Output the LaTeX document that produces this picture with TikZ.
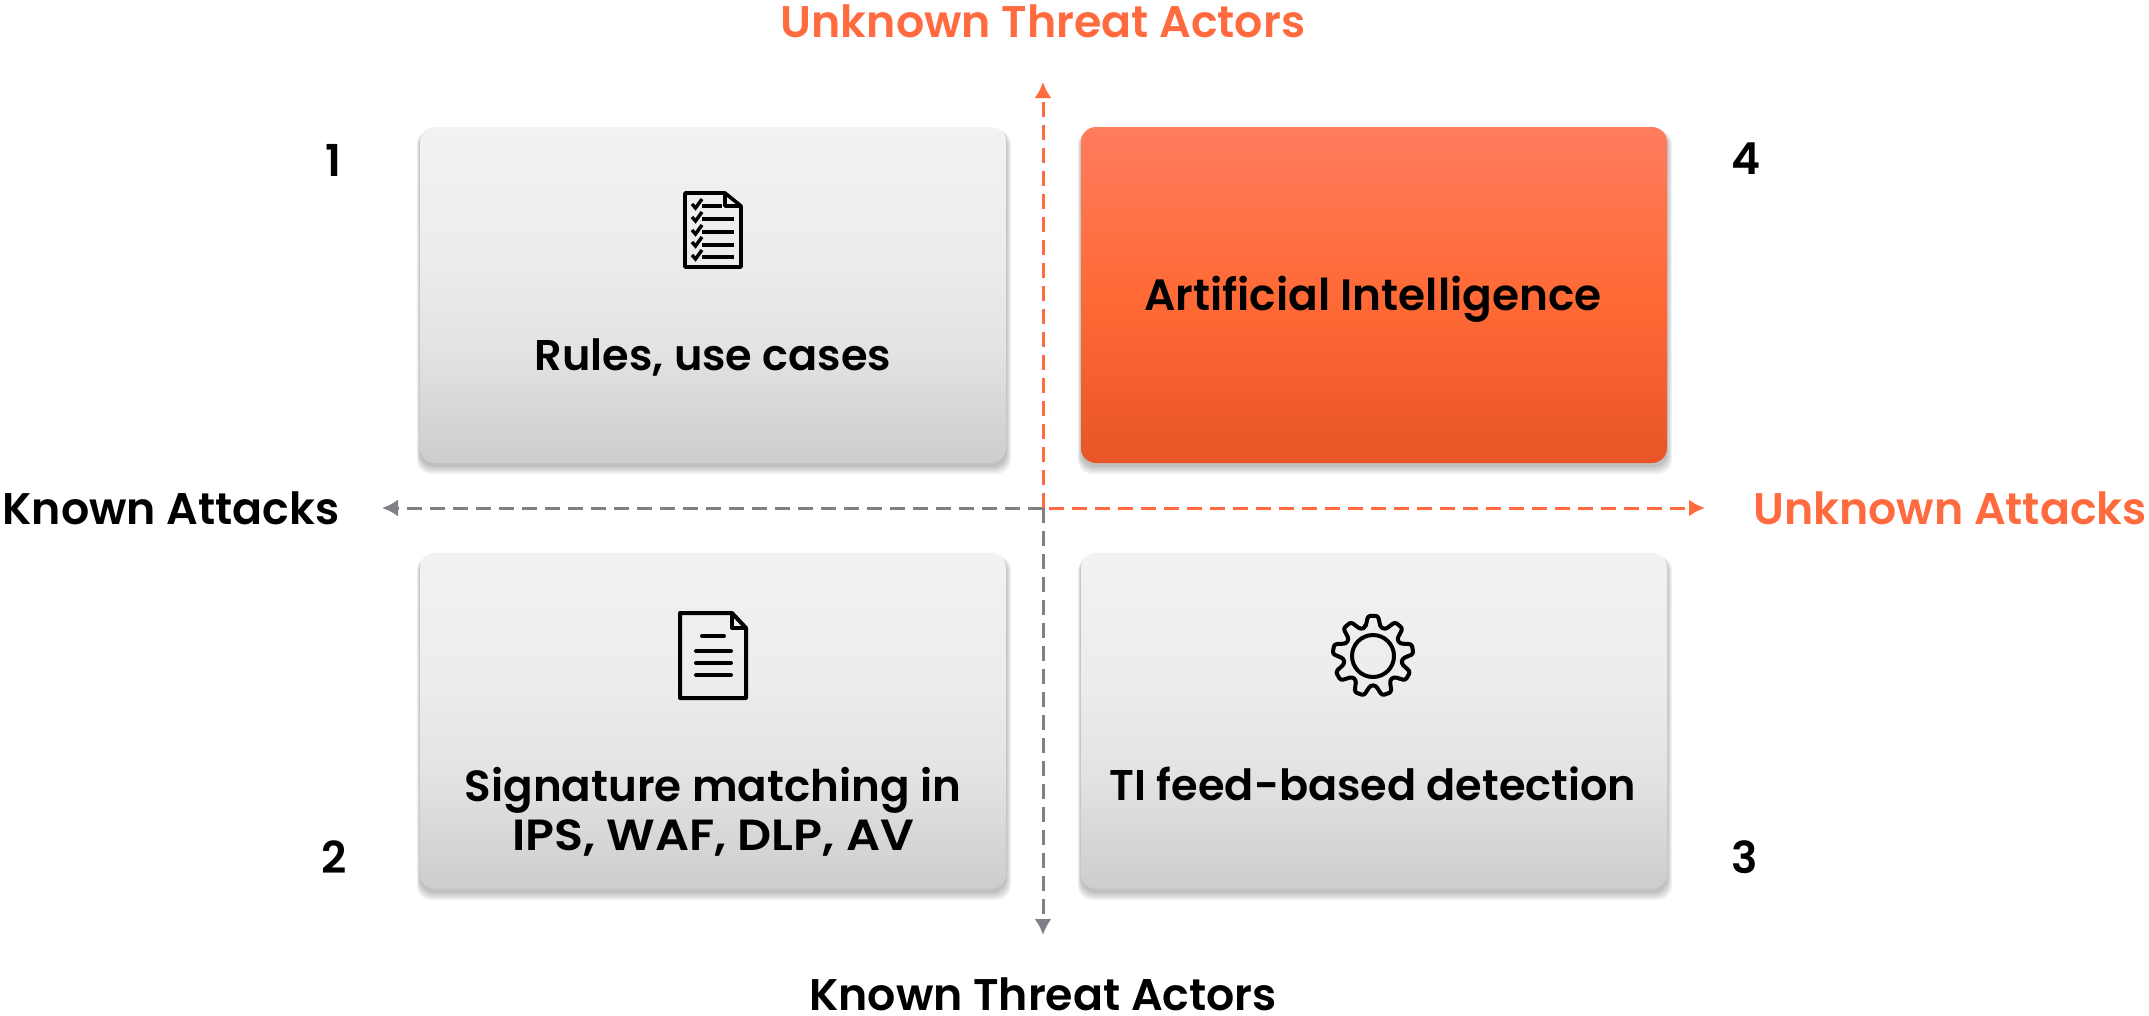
\documentclass[tikz,border=0pt]{standalone}
\usepackage{fontspec}
\setmainfont{Poppins}[UprightFont=* SemiBold,BoldFont=* SemiBold]
\usetikzlibrary{arrows.meta,calc}
\definecolor{acc}{HTML}{FF6B3F}
\definecolor{axisgrey}{HTML}{7F7F85}
\definecolor{ga}{HTML}{CDCDCD}
\definecolor{gb}{HTML}{E3E3E3}
\definecolor{gc}{HTML}{ECECEC}
\definecolor{gd}{HTML}{F2F2F2}
\pgfdeclareverticalshading{greybox}{100bp}{color(0bp)=(ga);color(25bp)=(ga);color(42bp)=(gb);color(55bp)=(gc);color(75bp)=(gd);color(100bp)=(gd)}
\definecolor{oa}{HTML}{E85526}
\definecolor{ob}{HTML}{FF6A36}
\definecolor{oc}{HTML}{FF7C5E}
\pgfdeclareverticalshading{orangebox}{100bp}{color(0bp)=(oa);color(25bp)=(oa);color(50bp)=(ob);color(75bp)=(oc);color(100bp)=(oc)}
\tikzset{
 x=1pt,y=-1pt,
 every node/.style={inner sep=0pt,outer sep=0pt,align=center,text=black},
 card/.style={rounded corners=15pt,minimum width=586pt,minimum height=336pt,anchor=north west,shading=greybox},
 hot/.style={card,shading=orangebox},
 cardtxt/.style={font=\fontsize{43}{49}\selectfont},
 axistxt/.style={font=\fontsize{44.3}{50}\selectfont},
 numtxt/.style={font=\fontsize{44}{50}\selectfont},
 axisgr/.style={axisgrey,line width=3pt,dash pattern=on 15pt off 8pt,-{Latex[length=16pt,width=17pt]}},
 axisor/.style={axisgr,acc},
 ic/.style={line width=4pt,black,line join=round},
 icl/.style={line width=4pt,black,line cap=round},
}
\newcommand{\softshadow}[4]{%
 \foreach \g in {9,7,5,3,1}{
  \fill[black,opacity=0.055,rounded corners=15pt] (#1-\g*.35,#2+3) rectangle (#3+\g*.55,#4+3+\g*.9);
 }}
\newcommand{\chk}[2]{\draw[line width=3.4pt,black] (#1,#2-1) -- (#1+3.5,#2+3) -- (#1+10,#2-6);}
\begin{document}
\begin{tikzpicture}
\useasboundingbox (0,0) rectangle (2149,1015);
\softshadow{420}{127}{1006}{463}
\softshadow{1081}{127}{1667}{463}
\softshadow{420}{553}{1006}{889}
\softshadow{1081}{553}{1667}{889}
\node[card] (b1) at (420,127) {};
\node[hot] (b4) at (1081,127) {};
\node[card] (b2) at (420,553) {};
\node[card] (b3) at (1081,553) {};

\coordinate (c) at (1043,508);
\coordinate (up) at (1043,82);
\coordinate (dn) at (1043,935);
\coordinate (lf) at (382,508);
\coordinate (rt) at (1705,508);
\draw[axisgr] (c) -- (dn);
\draw[axisgr] (c) -- (lf);
\draw[axisor] (c) -- (up);
\draw[axisor] ($(c)+(6,0)$) -- (rt);

\node[cardtxt] (t1) at (713,357) {Rules, use cases};
\node[cardtxt,font=\fontsize{43.8}{49}\selectfont] (t4) at (1373,299) {Artificial Intelligence};
\node[cardtxt,font=\fontsize{43.6}{49}\selectfont] (t2) at (713,812) {Signature matching in\\\scalebox{1.09}[1]{IPS, WAF, DLP, AV}};
\node[cardtxt] (t3) at (1373,784) {TI feed-based detection};

\node[axistxt,text=acc] (ut) at (1043,21) {Unknown Threat Actors};
\node[axistxt] (kt) at (1043,994) {Known Threat Actors};
\node[axistxt] (ka) at (171,508) {Known Attacks};
\node[axistxt,text=acc] (ua) at (1950,508) {Unknown Attacks};

\node[numtxt] (n1) at (333,160) {1};
\node[numtxt] (n4) at (1746,159) {4};
\node[numtxt] (n2) at (334,857) {2};
\node[numtxt] (n3) at (1745,857) {3};

% checklist icon
\draw[ic,line width=3.6pt] (685,193) -- (725,193) -- (741,206) -- (741,267) -- (685,267) -- cycle;
\draw[ic,line width=3.6pt] (725,193) -- (725,206) -- (741,206);
\draw[line width=3.4pt] (702,206) -- (722,206);
\foreach \yy in {219,232,245,257}{\draw[line width=3.4pt] (702,\yy) -- (734,\yy);}
\foreach \yy in {205,218,231,243,256}{\chk{692}{\yy}}

% document icon
\draw[ic] (680,613) -- (732,613) -- (746,628) -- (746,698) -- (680,698) -- cycle;
\draw[ic] (732,613) -- (732,628) -- (746,628);
\draw[icl] (702,636) -- (724,636);
\foreach \yy in {651,663,675}{\draw[icl] (696,\yy) -- (731,\yy);}

% gear icon
\begin{scope}[shift={(1373,656)}]
\draw[ic] (0,0) circle (21);
\draw[ic,rounded corners=2.5pt] (-105:29.5) \foreach \k [evaluate=\k as \a using {-90+\k*40}] in {0,...,8}{
  -- ({\a-15}:29.5) -- ({\a-7}:40.5) -- ({\a+7}:40.5) -- ({\a+15}:29.5)
 } -- cycle;
\end{scope}
\end{tikzpicture}
\end{document}
